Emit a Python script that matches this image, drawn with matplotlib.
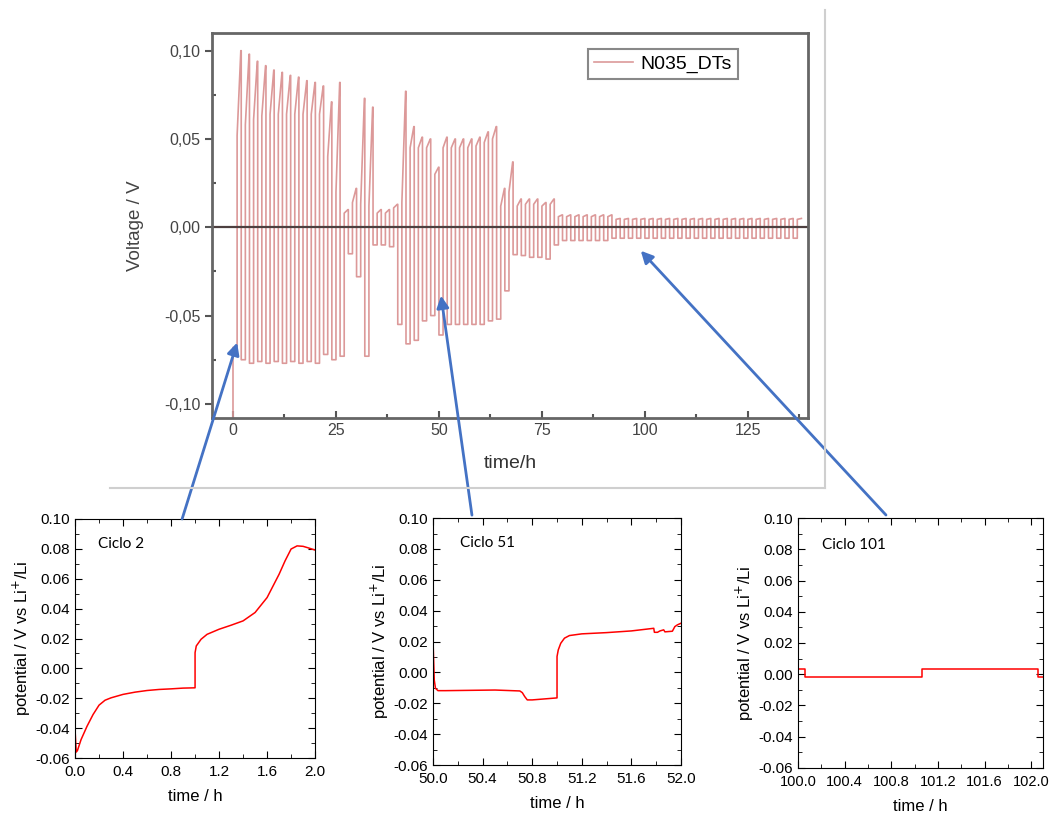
import matplotlib
matplotlib.use('Agg')
import matplotlib.pyplot as plt
from matplotlib.ticker import MultipleLocator, FuncFormatter
from matplotlib.patches import ConnectionPatch
from matplotlib.lines import Line2D

plt.rcParams['font.family'] = ['Liberation Sans', 'DejaVu Sans']
plt.rcParams['axes.unicode_minus'] = False

# ---- Datos del ciclado completo (N035_DTs), un valor por ciclo de 2 h ----
duracion_ciclo = 2.0
v_inicio = -0.12  # pico de descarga inicial (sale por abajo)
pico = [0.100, 0.098, 0.094, 0.0915, 0.089, 0.0877, 0.086, 0.085, 0.083, 0.082, 0.080,
        0.071, 0.082, 0.010, 0.022, 0.073, 0.068, 0.010, 0.010, 0.013, 0.077,
        0.057, 0.051, 0.050, 0.034, 0.051, 0.050, 0.050, 0.050, 0.051, 0.054,
        0.057, 0.022, 0.037, 0.016, 0.016, 0.016, 0.014, 0.016,
        0.007, 0.007, 0.007, 0.007, 0.007, 0.007, 0.007,
        0.005, 0.005, 0.005, 0.005, 0.005, 0.005, 0.005, 0.005, 0.005, 0.005, 0.005, 0.005,
        0.005, 0.005, 0.005, 0.005, 0.005, 0.005, 0.005, 0.005, 0.005, 0.005, 0.005]
rodilla = [0.052, 0.058, 0.061, 0.063, 0.064, 0.064, 0.064, 0.064, 0.064, 0.064, 0.064,
           0.040, 0.020, 0.008, 0.014, 0.013, 0.012, 0.008, 0.008, 0.011, 0.014,
           0.045, 0.045, 0.045, 0.030, 0.045, 0.045, 0.045, 0.045, 0.046, 0.048,
           0.050, 0.012, 0.020, 0.012, 0.013, 0.013, 0.012, 0.013,
           0.006, 0.006, 0.006, 0.006, 0.006, 0.006, 0.006,
           0.0045, 0.0045, 0.0045, 0.0045, 0.0045, 0.0045, 0.0045, 0.0045, 0.0045, 0.0045,
           0.0045, 0.0045, 0.0045, 0.0045, 0.0045, 0.0045, 0.0045, 0.0045, 0.0045, 0.0045,
           0.0045, 0.0045, 0.0045]
valle = [-0.068, -0.075, -0.077, -0.076, -0.077, -0.076, -0.077, -0.076, -0.077, -0.076, -0.077,
         -0.072, -0.075, -0.073, -0.015, -0.028, -0.073, -0.010, -0.010, -0.011, -0.055,
         -0.066, -0.064, -0.053, -0.050, -0.061, -0.055, -0.055, -0.055, -0.055, -0.055,
         -0.053, -0.052, -0.036, -0.0155, -0.016, -0.017, -0.017, -0.018,
         -0.010, -0.0075, -0.0075, -0.0075, -0.0075, -0.0075, -0.0075,
         -0.0062, -0.0062, -0.0062, -0.0062, -0.0062, -0.0062, -0.0062, -0.0062, -0.0062,
         -0.0062, -0.0062, -0.0062, -0.0062, -0.0062, -0.0062, -0.0062, -0.0062, -0.0062,
         -0.0062, -0.0062, -0.0062, -0.0062, -0.0062]

# ---- Ciclos ampliados ----
t_ciclo2 = [0.0, 0.01, 0.02, 0.05, 0.10, 0.15, 0.20, 0.25, 0.30, 0.40, 0.50, 0.60, 0.70, 0.80,
            0.90, 1.00, 1.00, 1.01, 1.05, 1.10, 1.20, 1.30, 1.40, 1.50, 1.60, 1.70, 1.75, 1.80,
            1.85, 1.90, 1.95, 2.00]
v_ciclo2 = [-0.041, -0.056, -0.055, -0.0477, -0.0387, -0.0309, -0.0246, -0.0213, -0.0197,
            -0.0174, -0.0159, -0.0148, -0.0141, -0.0137, -0.0132, -0.0130, 0.0105, 0.0150,
            0.0195, 0.0228, 0.0262, 0.0289, 0.0318, 0.0374, 0.0474, 0.0630, 0.0720, 0.0799,
            0.0820, 0.0817, 0.0805, 0.0792]

t_ciclo51 = [50.0, 50.01, 50.02, 50.04, 50.10, 50.30, 50.50, 50.70, 50.72, 50.74, 50.76, 50.80,
             51.00, 51.00, 51.01, 51.03, 51.06, 51.10, 51.20, 51.40, 51.60, 51.78, 51.785,
             51.81, 51.83, 51.86, 51.87, 51.93, 51.95, 51.97, 52.00]
v_ciclo51 = [0.0211, -0.0049, -0.0103, -0.0118, -0.0118, -0.0116, -0.0114, -0.0120, -0.0131,
             -0.0157, -0.0178, -0.0178, -0.0165, 0.0103, 0.0146, 0.0189, 0.0222, 0.0239,
             0.0250, 0.0258, 0.0269, 0.0286, 0.0260, 0.0260, 0.0269, 0.0276, 0.0263, 0.0267,
             0.0297, 0.0308, 0.0319]

t_ciclo101 = [100.0, 100.064, 100.064, 101.063, 101.063, 102.06, 102.06, 102.1]
v_ciclo101 = [0.0035, 0.0035, -0.0020, -0.0020, 0.0035, 0.0035, -0.0020, -0.0020]


def construir_traza():
    # descarga (1 h) y carga (1 h) por ciclo
    t = [0.0]
    v = [v_inicio]
    for k in range(len(pico)):
        t0 = duracion_ciclo * k
        t += [t0, t0 + 1.0, t0 + 1.0, t0 + 1.9, t0 + 2.0]
        v += [valle[k], valle[k], rodilla[k], pico[k], pico[k]]
    return t, v


def coma(x, pos):
    return '{:.2f}'.format(x).replace('.', ',')


fig = plt.figure(figsize=(10.51, 8.15), dpi=100)

# ---- Grafico principal ----
ax = fig.add_axes([0.2017, 0.4871, 0.5671, 0.4724])
t, v = construir_traza()
ax.plot(t, v, color='#dc9999', lw=1.2, label='N035_DTs')
ax.axhline(0, color='#4d4040', lw=1.6)
ax.set_xlim(-5.1, 139.6)
ax.set_ylim(-0.108, 0.110)
ax.xaxis.set_major_locator(MultipleLocator(25))
ax.xaxis.set_minor_locator(MultipleLocator(12.5))
ax.yaxis.set_major_locator(MultipleLocator(0.05))
ax.yaxis.set_minor_locator(MultipleLocator(0.025))
ax.yaxis.set_major_formatter(FuncFormatter(coma))
ax.tick_params(which='both', colors='#555555', labelcolor='#444444',
               labelsize=11.5, width=1.5)
ax.tick_params(axis='x', which='both', direction='in')
ax.tick_params(axis='y', which='major', direction='out')
ax.tick_params(axis='y', which='minor', direction='in')
ax.tick_params(which='major', length=5)
ax.tick_params(which='minor', length=3)
for s in ax.spines.values():
    s.set_color('#666666')
    s.set_linewidth(2)
ax.set_xlabel('time/h', fontsize=14, color='#333333', labelpad=12)
ax.set_ylabel('Voltage / V', fontsize=13.5, color='#444444', labelpad=14)
leg = ax.legend(loc='upper right', bbox_to_anchor=(0.882, 0.958), borderaxespad=0,
                fancybox=False, fontsize=14, handlelength=2.0, handletextpad=0.4,
                borderpad=0.3, framealpha=1)
leg.get_frame().set_edgecolor('#888888')
leg.get_frame().set_linewidth(1.5)

# borde gris de la captura
fig.add_artist(Line2D([0.785, 0.785], [0.988, 0.401], transform=fig.transFigure,
                      color='#cfcfcf', lw=1.5))
fig.add_artist(Line2D([0.1047, 0.785], [0.401, 0.401], transform=fig.transFigure,
                      color='#cfcfcf', lw=1.5))


def dibujar_ciclo(rect, tt, vv, xlim, etiqueta, pos_etiqueta, tam_x=11):
    a = fig.add_axes(rect)
    a.plot(tt, vv, color='red', lw=1.1)
    a.set_xlim(xlim)
    a.set_ylim(-0.06, 0.10)
    a.xaxis.set_major_locator(MultipleLocator(0.4))
    a.xaxis.set_minor_locator(MultipleLocator(0.2))
    a.yaxis.set_major_locator(MultipleLocator(0.02))
    a.yaxis.set_minor_locator(MultipleLocator(0.01))
    a.xaxis.set_major_formatter(FuncFormatter(lambda x, p: '{:.1f}'.format(x)))
    a.yaxis.set_major_formatter(FuncFormatter(lambda x, p: '{:.2f}'.format(x)))
    a.tick_params(which='both', direction='in', top=True, right=True, labelsize=11)
    a.tick_params(axis='x', labelsize=tam_x, pad=5)
    a.tick_params(which='major', length=5)
    a.tick_params(which='minor', length=3)
    for s in a.spines.values():
        s.set_linewidth(0.8)
    a.set_xlabel('time / h', fontsize=12, labelpad=7)
    a.set_ylabel('potential / V vs Li$^{+}$/Li', fontsize=12, labelpad=2)
    a.text(pos_etiqueta[0], pos_etiqueta[1], etiqueta, transform=a.transAxes,
           fontsize=11, family=['Lato', 'DejaVu Sans'], va='center')
    return a


ax1 = dibujar_ciclo([0.0714, 0.0699, 0.2284, 0.2933], t_ciclo2, v_ciclo2, (0.0, 2.0),
                    'Ciclo 2', (0.096, 0.895))
ax2 = dibujar_ciclo([0.412, 0.0613, 0.236, 0.303], t_ciclo51, v_ciclo51, (50.0, 52.0),
                    'Ciclo 51', (0.109, 0.899))
ax3 = dibujar_ciclo([0.7593, 0.0577, 0.2331, 0.3067], t_ciclo101, v_ciclo101, (100.0, 102.1),
                    'Ciclo 101', (0.098, 0.892), tam_x=10.5)

# flechas desde cada ciclo a su zona en el grafico principal
flechas = [(ax1, (0.446, 1.0), (1.0, -0.0653)),
           (ax2, (0.157, 1.012), (50.5, -0.0387)),
           (ax3, (0.359, 1.012), (99.0, -0.0133))]
for a, origen, destino in flechas:
    con = ConnectionPatch(xyA=origen, coordsA=a.transAxes, xyB=destino, coordsB=ax.transData,
                          arrowstyle='-|>', mutation_scale=18, color='#4472C4', lw=2)
    fig.add_artist(con)

fig.savefig('out.png', dpi=100)
